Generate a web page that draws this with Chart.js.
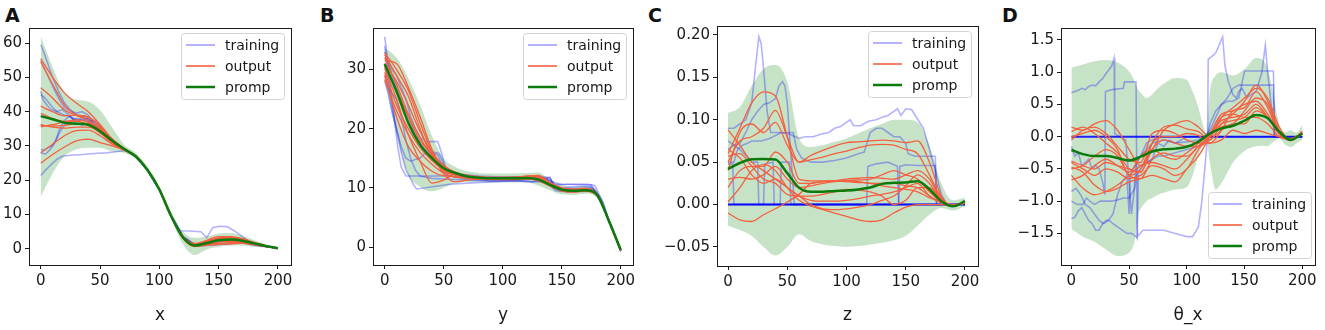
<!DOCTYPE html>
<html>
<head>
<meta charset="utf-8">
<script src="https://cdn.jsdelivr.net/npm/chart.js@4.4.1/dist/chart.umd.min.js"></script>
<style>
  body { margin: 0; background: #fff; width: 1325px; height: 330px; overflow: hidden; position: relative; }
  canvas { position: absolute; top: 0; }
  .tag { position: absolute; top: 6px; font: bold 19px 'DejaVu Sans'; line-height: 19px; color: #111; }
</style>
</head>
<body>
<div class="tag" style="left:5px">A</div>
<div class="tag" style="left:320px">B</div>
<div class="tag" style="left:648px">C</div>
<div class="tag" style="left:1002px">D</div>
<canvas id="chartA" width="300" height="330" style="left:0px"></canvas>
<canvas id="chartB" width="310" height="330" style="left:330px"></canvas>
<canvas id="chartC" width="330" height="330" style="left:655px"></canvas>
<canvas id="chartD" width="325" height="330" style="left:1000px"></canvas>
<script>
// sample positions for the smooth curves
const steps = [0, 10, 20, 30, 40, 50, 60, 70, 80, 90, 100, 110, 120, 130, 140, 150, 160, 170, 180, 190, 200];
const xTicks = [0, 50, 100, 150, 200];
const xLabels = ['0', '50', '100', '150', '200'];

// ---- panel A (x) ----
const yTicksA = [0, 10, 20, 30, 40, 50, 60];
const yLabelsA = ['0', '10', '20', '30', '40', '50', '60'];
const prompA = [38.7, 37.8, 36.8, 36.5, 36.2, 34.3, 31.6, 29.2, 27.0, 23.0, 17.3, 9.5, 3.3, 1.0, 1.7, 2.5, 2.7, 2.4, 1.6, 0.8, 0.2];
const bandUpA = [62, 53, 45.5, 43.5, 43, 40.5, 35.5, 30.5, 28, 24, 18.3, 10.8, 5, 3.2, 3.6, 4.5, 4.6, 3.8, 2.6, 1.3, 0.5];
const bandLoA = [15.2, 22, 27, 29, 29.5, 29.5, 28.5, 28, 26.3, 22.3, 16.7, 8.8, 1.3, -1.8, -0.2, 0.6, 0.9, 1.0, 0.6, 0.3, -0.1];
const outputA = [
  [55.5, 50, 45.5, 42.5, 40, 36.3, 32.2, 29.4, 27, 23, 17.3, 9.6, 3.5, 1.2, 2.2, 3.2, 3.4, 2.9, 1.8, 0.8, 0.2],
  [54.5, 48, 42, 39, 37.5, 35, 31.6, 29.1, 27, 23, 17.2, 9.4, 3.0, 0.7, 1.3, 2.0, 2.2, 2.0, 1.4, 0.7, 0.2],
  [47, 44, 40.5, 39, 38.3, 35.8, 32, 29.3, 27, 23, 17.3, 9.5, 3.4, 1.3, 2.0, 2.8, 3.1, 2.7, 1.7, 0.8, 0.2],
  [41.6, 40, 38.8, 39, 38.5, 35.7, 32, 29.3, 27, 23, 17.3, 9.5, 3.3, 1.0, 1.6, 2.4, 2.6, 2.4, 1.6, 0.8, 0.2],
  [39.5, 38, 37.2, 37.6, 37, 35, 31.7, 29.1, 27, 23, 17.3, 9.5, 3.2, 0.9, 1.2, 1.6, 1.8, 1.8, 1.3, 0.7, 0.2],
  [36.2, 35.5, 35.2, 35.5, 35.5, 34, 31.2, 29, 27, 23, 17.3, 9.5, 3.3, 1.2, 2.5, 3.6, 3.6, 3.0, 1.9, 0.9, 0.2],
  [35.6, 36.2, 37, 37.2, 36.2, 33.8, 31, 28.9, 27, 23, 17.3, 9.6, 3.6, 1.5, 1.9, 2.6, 2.9, 2.6, 1.7, 0.8, 0.2],
  [28, 30.5, 33, 34.5, 34.6, 33, 30.6, 28.9, 27, 23, 17.3, 9.5, 3.2, 0.8, 1.0, 1.3, 1.5, 1.6, 1.2, 0.7, 0.2],
  [25, 27.5, 29.7, 31.5, 32, 31, 30, 28.8, 26.9, 23, 17.3, 9.5, 3.4, 1.6, 2.4, 3.0, 3.0, 2.5, 1.6, 0.8, 0.2],
  [36, 35.8, 36, 36.5, 36.6, 34.6, 31.6, 29.2, 27, 23, 17.3, 9.5, 3.3, 1.1, 1.8, 2.5, 2.7, 2.3, 1.5, 0.8, 0.2]
];
const trainingA = [
  [[0,59.5],[3,57],[6,54],[10,50],[15,46],[20,42.5],[25,40.5],[30,39],[35,38.5],[40,37.2],[45,35.8],[50,35],[55,33.2],[60,31.5],[65,30.1],[70,29],[80,27],[90,23],[100,17.3],[110,9.7],[120,3.5],[130,1.0],[140,1.6],[150,2.4],[160,2.6],[170,2.2],[180,1.4],[190,0.7],[200,0.2]],
  [[0,46],[2,43.5],[5,42],[8,40.8],[12,40.2],[16,39.6],[20,39],[25,38.5],[30,37.2],[35,37.6],[40,38],[45,37],[50,35.5],[55,33.2],[60,31.3],[70,29],[80,27],[90,23],[100,17.3],[110,9.6],[117,5.3],[125,5.2],[135,5],[140,3.3],[145,6.2],[150,6.6],[157,6.5],[163,5.3],[170,3.6],[178,1.5],[185,1],[190,0.8],[200,0.3]],
  [[0,45],[3,44.2],[6,43],[10,41.2],[14,40],[18,40.6],[22,39.6],[26,38.2],[30,36.6],[35,36],[40,36.6],[45,36],[50,34.6],[60,31.8],[70,29.2],[80,27],[90,23],[100,17.3],[110,9.5],[120,3.2],[130,0.8],[140,1.0],[150,1.2],[160,1.5],[170,1.8],[180,1.0],[190,0.7],[200,0.2]],
  [[0,29],[3,28.8],[6,29.5],[10,30.2],[13,32],[16,35],[20,37.5],[24,38.6],[28,38],[32,37.5],[36,38.6],[40,37.8],[45,36.2],[50,34.2],[60,31.5],[70,29],[80,27],[90,23],[100,17.3],[110,9.6],[120,3.4],[130,1.2],[140,1.8],[150,2.6],[160,2.8],[170,2.4],[180,1.5],[190,0.7],[200,0.2]],
  [[0,21.4],[3,22.6],[6,23.6],[10,25],[14,26.2],[18,27],[25,27.3],[35,27.5],[45,27.8],[55,28],[65,28.4],[72,28.7],[80,27.2],[90,23],[100,17.3],[110,9.5],[120,3.3],[130,0.9],[140,1.3],[150,2.0],[160,2.3],[170,2.0],[180,1.2],[190,0.6],[200,0.2]],
  [[0,28],[4,27.6],[8,29],[12,31],[16,34],[20,36],[25,37.2],[30,38],[35,37.6],[40,37],[45,37.5],[50,36],[55,33.6],[60,31.6],[70,29.1],[80,27],[90,23],[100,17.3],[110,9.6],[120,3.4],[130,1.1],[140,1.9],[150,2.9],[160,3.1],[170,2.6],[180,1.6],[190,0.8],[200,0.2]],
  [[0,55],[4,52],[8,49],[12,46],[16,43.2],[20,41.2],[25,40.2],[30,39.6],[35,40],[40,39],[45,36.6],[50,35],[60,31.8],[70,29.2],[80,27],[90,23],[100,17.3],[110,9.6],[120,3.6],[130,1.3],[140,2.0],[150,2.8],[160,3.0],[170,2.6],[180,1.6],[190,0.8],[200,0.2]]
];

// ---- panel B (y) ----
const yTicksB = [0, 10, 20, 30];
const yLabelsB = ['0', '10', '20', '30'];
const prompB = [30.9, 26.3, 21.0, 17.3, 15.0, 13.3, 12.5, 11.9, 11.7, 11.6, 11.6, 11.6, 11.65, 11.4, 10.5, 9.7, 9.5, 9.6, 8.8, 4.4, -0.5];
const bandUpB = [33.6, 32, 28.5, 24, 18.8, 15, 13.5, 12.8, 12.5, 12.4, 12.4, 12.4, 12.5, 12.6, 11.4, 10.5, 10.2, 10.4, 9.4, 4.9, 0];
const bandLoB = [28, 19, 12.2, 10.2, 9.4, 10, 10.8, 11.0, 11.0, 10.9, 10.9, 10.9, 10.9, 10.4, 9.6, 8.9, 8.8, 9.0, 8.2, 3.9, -1];
const outputB = [
  [31.5, 31, 27, 22, 16.5, 13.2, 12.3, 12.0, 11.8, 11.7, 11.7, 11.8, 11.9, 11.8, 10.8, 9.9, 9.7, 9.8, 8.9, 4.4, -0.5],
  [32.5, 29, 25.5, 20, 15.2, 12.8, 12.2, 11.9, 11.8, 11.7, 11.7, 11.7, 11.8, 11.6, 10.6, 9.8, 9.6, 9.7, 8.8, 4.4, -0.5],
  [30.2, 25, 19, 14.5, 10.8, 11.3, 12.3, 12.0, 11.7, 11.6, 11.6, 11.6, 11.7, 11.4, 10.5, 9.7, 9.5, 9.6, 8.8, 4.4, -0.5],
  [29, 22, 17, 14.5, 12.8, 12.0, 11.9, 11.7, 11.6, 11.5, 11.5, 11.5, 11.6, 11.3, 10.4, 9.6, 9.4, 9.5, 8.8, 4.4, -0.5],
  [28.3, 23, 19, 16, 14, 12.5, 11.8, 11.6, 11.5, 11.5, 11.5, 11.5, 11.5, 11.2, 10.3, 9.5, 9.3, 9.5, 8.7, 4.4, -0.5],
  [32, 27.5, 22.5, 18.5, 15.5, 13.6, 12.6, 12.0, 11.8, 11.7, 11.7, 11.7, 11.9, 11.9, 10.8, 9.9, 9.7, 9.8, 8.9, 4.4, -0.5],
  [31, 28, 24, 19.5, 16, 13.8, 12.6, 12.1, 11.9, 11.8, 11.8, 11.8, 12.0, 12.1, 10.9, 10.0, 9.8, 9.9, 8.9, 4.4, -0.5],
  [29.5, 24, 20, 16.8, 14.6, 13, 12.1, 11.7, 11.5, 11.4, 11.4, 11.4, 11.5, 11.3, 10.4, 9.5, 9.3, 9.4, 8.7, 4.4, -0.5],
  [30.5, 26.5, 22, 18, 15.7, 13.5, 12.3, 11.8, 11.6, 11.6, 11.6, 11.6, 11.7, 11.6, 10.6, 9.7, 9.5, 9.6, 8.8, 4.4, -0.5],
  [32.8, 30, 26.5, 21, 16, 12.3, 11.0, 11.3, 11.5, 11.5, 11.5, 11.5, 11.6, 11.5, 10.5, 9.7, 9.5, 9.6, 8.8, 4.4, -0.5]
];
const trainingB = [
  [[0,35.5],[1,34],[3,31],[6,29],[10,27],[14,25],[18,23],[22,21],[26,19],[30,17.5],[34,16.5],[38,16.2],[42,16],[46,15.8],[50,14],[55,12.5],[60,12.2],[70,11.8],[90,11.6],[110,11.8],[120,11.9],[130,11.8],[138,11.5],[142,10],[145,9.5],[150,9.4],[160,9.3],[170,9.5],[178,9.3],[185,7],[190,4.5],[195,2],[200,-0.8]],
  [[0,34],[2,31],[5,27],[8,22],[11,17],[14,13.5],[18,12],[30,12],[45,12],[55,12],[70,11.5],[90,11.2],[110,11.2],[130,11.0],[140,11.2],[145,10.8],[150,10.6],[175,10.5],[180,9],[190,4.5],[200,-0.5]],
  [[0,28],[3,26],[6,23],[10,20],[14,16],[18,13],[22,11.5],[25,10.3],[27,9.8],[35,10],[45,10.3],[55,10.6],[70,10.8],[90,11],[110,11.2],[125,11],[135,11.5],[140,11.8],[143,10.5],[150,10],[165,10.2],[175,10.2],[182,8.5],[190,4.3],[200,-0.6]],
  [[0,33],[3,31],[6,30],[10,29],[14,27],[18,25],[22,22],[26,20],[30,18.5],[35,17.8],[40,17.8],[45,17.8],[48,16],[52,13],[56,12.5],[65,12.3],[80,12],[100,11.8],[120,11.8],[130,12],[140,11.7],[145,10],[150,9.6],[160,9.8],[175,10],[180,9],[190,4.4],[200,-0.4]],
  [[0,31],[3,28],[6,24],[10,20],[14,17],[18,15],[22,14.5],[26,14.8],[30,15],[35,16],[40,16],[45,15.5],[48,14],[52,12.2],[60,11.8],[75,11.7],[100,11.6],[120,11.5],[135,11.6],[140,11.4],[145,9.8],[150,9.5],[170,9.4],[178,9.6],[185,7.5],[190,4.5],[200,-0.3]],
  [[0,29],[3,27],[6,26],[10,25],[14,22],[18,18],[22,15],[26,13],[30,12],[40,11.6],[50,11.5],[70,11.3],[90,11.2],[110,11.2],[125,11.5],[135,11],[145,10.5],[155,10.6],[172,10.6],[178,10.4],[184,8],[190,4.6],[200,-0.7]]
];

// ---- panel C (z) ----
const yTicksC = [-0.05, 0, 0.05, 0.10, 0.15, 0.20];
const yLabelsC = ['\u22120.05', '0.00', '0.05', '0.10', '0.15', '0.20'];
const prompC = [0.042, 0.049, 0.0535, 0.0537, 0.053, 0.037, 0.0197, 0.015, 0.015, 0.016, 0.0165, 0.0178, 0.02, 0.0244, 0.0256, 0.026, 0.0276, 0.018, 0.004, -0.002, 0.004];
const bandUpC = [0.108, 0.115, 0.14, 0.16, 0.165, 0.145, 0.078, 0.068, 0.07, 0.074, 0.078, 0.084, 0.09, 0.095, 0.1, 0.1, 0.097, 0.07, 0.025, 0.005, 0.008];
const bandLoC = [-0.025, -0.03, -0.037, -0.05, -0.06, -0.05, -0.035, -0.043, -0.047, -0.049, -0.05, -0.049, -0.047, -0.045, -0.042, -0.037, -0.025, -0.012, -0.004, -0.007, -0.002];
const outputC = [
  [0.06, 0.09, 0.12, 0.133, 0.128, 0.08, 0.03, 0.028, 0.028, 0.028, 0.027, 0.026, 0.025, 0.022, 0.02, 0.018, 0.015, 0.008, 0.003, 0.0, 0.002],
  [0.088, 0.07, 0.05, 0.04, 0.03, 0.02, 0.01, 0.005, 0.004, 0.004, 0.005, 0.007, 0.01, 0.012, 0.015, 0.02, 0.025, 0.01, 0.002, -0.002, 0.002],
  [0.05, 0.075, 0.08, 0.09, 0.111, 0.08, 0.05, 0.058, 0.064, 0.069, 0.073, 0.074, 0.075, 0.076, 0.075, 0.073, 0.075, 0.05, 0.01, -0.002, 0.002],
  [0.04, 0.085, 0.095, 0.085, 0.097, 0.07, 0.05, 0.053, 0.056, 0.06, 0.063, 0.067, 0.07, 0.071, 0.07, 0.065, 0.06, 0.035, 0.008, -0.002, 0.002],
  [0.02, 0.04, 0.045, 0.045, 0.062, 0.05, 0.025, 0.025, 0.027, 0.028, 0.03, 0.031, 0.032, 0.031, 0.03, 0.035, 0.04, 0.03, 0.006, -0.002, 0.002],
  [0.065, 0.055, 0.035, 0.025, 0.03, 0.02, 0.01, 0.0, -0.005, -0.006, -0.005, -0.003, 0.0, 0.005, 0.01, 0.022, 0.035, 0.025, 0.005, -0.002, 0.002],
  [0.003, 0.02, 0.04, 0.047, 0.04, 0.02, 0.005, -0.002, -0.006, -0.01, -0.014, -0.018, -0.02, -0.018, -0.01, -0.003, 0.0, 0.0, 0.0, -0.002, 0.002],
  [-0.01, -0.018, -0.02, -0.012, -0.005, 0.003, 0.012, 0.025, 0.027, 0.028, 0.028, 0.027, 0.025, 0.025, 0.025, 0.022, 0.02, 0.01, 0.002, -0.002, 0.002],
  [0.057, 0.06, 0.045, 0.03, 0.025, 0.012, 0.01, 0.01, 0.012, 0.015, 0.018, 0.017, 0.015, 0.01, 0.0, 0.005, 0.02, 0.02, 0.005, -0.002, 0.002],
  [0.03, 0.032, 0.03, 0.035, 0.045, 0.03, 0.02, 0.022, 0.025, 0.027, 0.028, 0.029, 0.03, 0.035, 0.04, 0.035, 0.03, 0.015, 0.003, -0.002, 0.002]
];
const trainingC = [
  [[0,0.09],[5,0.09],[10,0.095],[15,0.1],[20,0.12],[23,0.16],[26,0.198],[28,0.19],[30,0.16],[33,0.11],[36,0.085],[45,0.085],[52,0.083],[60,0.078],[65,0.08],[72,0.08],[78,0.083],[85,0.085],[90,0.09],[95,0.092],[100,0.097],[103,0.1],[106,0.093],[112,0.093],[118,0.098],[125,0.1],[130,0.103],[135,0.105],[140,0.11],[143,0.113],[146,0.105],[150,0.113],[155,0.112],[158,0.105],[165,0.09],[170,0.065],[175,0.04],[180,0.012],[185,0.0]],
  [[0,0.065],[5,0.07],[10,0.072],[15,0.085],[20,0.1],[25,0.11],[30,0.118],[35,0.12],[40,0.125],[43,0.14],[46,0.145],[48,0.14],[50,0.12],[52,0.08],[54,0.04],[56,0.0],[200,0.0]],
  [[0,0.05],[5,0.05],[8,0.065],[12,0.07],[16,0.072],[20,0.075],[28,0.075],[35,0.078],[45,0.085],[55,0.085],[58,0.065],[62,0.055],[70,0.05],[80,0.05],[90,0.052],[100,0.055],[110,0.06],[115,0.062],[120,0.085],[125,0.09],[130,0.09],[135,0.085],[140,0.08],[145,0.08],[150,0.072],[152,0.06],[158,0.057],[175,0.057],[176,0.0]],
  [[0,0.048],[4,0.048],[5,0.0],[200,0.0]],
  [[0,0.075],[5,0.07],[10,0.065],[15,0.058],[20,0.05],[25,0.05],[26,0.0],[30,0.0],[31,0.048],[38,0.05],[39,0.0],[44,0.0],[45,0.05],[52,0.05],[53,0.0],[200,0.0]],
  [[0,0.0],[144,0.0],[145,0.045],[150,0.047],[160,0.046],[175,0.046],[176,0.0]],
  [[0,0.0],[117,0.0],[118,0.045],[125,0.048],[135,0.05],[143,0.045],[144,0.0]]
];
const zeroC = [[0, 0], [200, 0]];

// ---- panel D (theta_x) ----
const yTicksD = [-1.5, -1.0, -0.5, 0, 0.5, 1.0, 1.5];
const yLabelsD = ['\u22121.5', '\u22121.0', '\u22120.5', '0.0', '0.5', '1.0', '1.5'];
const prompD = [-0.206, -0.27, -0.3, -0.3, -0.33, -0.37, -0.31, -0.23, -0.195, -0.185, -0.155, -0.078, 0.05, 0.13, 0.17, 0.25, 0.336, 0.285, 0.078, -0.05, 0.05];
const bandStepsD = [0, 10, 20, 30, 40, 50, 55, 58, 60, 65, 70, 75, 80, 90, 100, 105, 110, 115, 117, 120, 125, 130, 140, 150, 160, 165, 170, 175, 180, 185, 190, 195, 200];
const bandUpD = [1.07, 1.12, 1.17, 1.19, 1.15, 1.01, 0.85, 0.72, 0.68, 0.6, 0.66, 0.75, 0.82, 0.91, 0.88, 0.7, 0.45, 0.12, 0.05, 0.7, 0.95, 1.0, 0.95, 1.05, 1.22, 1.2, 1.05, 0.65, 0.2, 0.07, 0.1, 0.06, 0.18];
const bandLoD = [-1.43, -1.55, -1.63, -1.75, -1.85, -1.8, -1.6, -1.2, -1.12, -1.0, -0.95, -0.9, -0.87, -0.82, -0.78, -0.6, -0.3, -0.05, -0.02, -0.4, -0.82, -0.72, -0.4, -0.22, -0.15, -0.14, -0.15, -0.08, -0.03, -0.12, -0.16, -0.1, -0.05];
const outputD = [
  [0.15, 0.1, 0.2, 0.25, 0.1, -0.2, -0.45, -0.2, 0.1, 0.2, 0.25, 0.15, 0.0, 0.3, 0.45, 0.6, 0.75, 0.6, 0.15, -0.05, 0.05],
  [0.08, 0.15, 0.05, -0.1, -0.25, -0.5, -0.55, -0.1, 0.15, 0.18, 0.12, 0.08, -0.05, 0.2, 0.35, 0.55, 0.8, 0.55, 0.1, -0.05, 0.08],
  [0.0, 0.05, 0.1, 0.0, -0.2, -0.6, -0.5, -0.1, 0.0, 0.0, 0.05, 0.02, -0.1, 0.1, 0.4, 0.45, 0.7, 0.45, 0.05, -0.03, 0.05],
  [-0.4, -0.5, -0.6, -0.5, -0.55, -0.65, -0.6, -0.45, -0.5, -0.6, -0.5, -0.2, 0.05, 0.35, 0.4, 0.5, 0.55, 0.35, 0.05, -0.06, 0.04],
  [-0.47, -0.55, -0.75, -0.85, -0.8, -0.7, -0.65, -0.6, -0.65, -0.7, -0.5, -0.3, 0.0, 0.3, 0.35, 0.3, 0.3, 0.2, 0.0, -0.04, 0.05],
  [-0.6, -0.8, -0.9, -0.85, -0.75, -0.6, -0.45, -0.4, -0.45, -0.5, -0.35, -0.15, 0.02, 0.15, 0.2, 0.4, 0.6, 0.5, 0.08, -0.05, 0.04],
  [-0.67, -0.6, -0.45, -0.35, -0.45, -0.55, -0.3, -0.2, -0.3, -0.35, -0.25, -0.1, 0.05, 0.25, 0.3, 0.35, 0.5, 0.3, 0.05, -0.03, 0.06],
  [-0.38, -0.45, -0.5, -0.4, -0.45, -0.5, -0.55, -0.2, -0.05, -0.1, -0.15, -0.15, -0.05, 0.1, 0.2, 0.2, 0.4, 0.3, 0.04, -0.05, 0.07],
  [-0.05, 0.1, 0.15, 0.05, -0.15, -0.35, -0.4, 0.05, 0.1, 0.05, -0.05, -0.1, -0.1, -0.05, 0.1, 0.05, 0.1, 0.05, 0.0, -0.04, 0.05],
  [-0.5, -0.45, -0.3, -0.2, -0.3, -0.6, -0.65, -0.35, -0.25, -0.3, -0.3, -0.15, 0.0, 0.2, 0.25, 0.3, 0.45, 0.3, 0.05, -0.03, 0.06]
];
const trainingD = [
  [[0,0.68],[3,0.7],[6,0.72],[9,0.75],[12,0.73],[15,0.78],[18,0.8],[21,0.79],[24,0.85],[27,0.9],[30,0.98],[33,1.05],[35,1.1],[37,1.22],[37.5,0.05],[42,0.0],[47,-0.05],[50,-0.7],[52,-1.2],[54,-0.9],[56,-0.4],[60,-0.3],[65,-0.2],[70,-0.1],[80,-0.05],[90,-0.1],[100,-0.08],[110,-0.05],[115,0.0],[120,0.1],[125,0.3],[130,0.5],[135,0.6],[140,0.75],[145,0.8],[160,0.8],[175,0.8],[176,0.0],[200,0.0]],
  [[0,-0.15],[3,-0.3],[6,-0.25],[9,-0.45],[12,-0.4],[15,-0.35],[18,-0.5],[21,-0.45],[24,-0.5],[27,-0.7],[29,-0.9],[29.5,0.7],[35,0.73],[45,0.75],[46,0.85],[56,0.85],[57,-1.55],[62,-1.45],[70,-1.45],[80,-1.45],[90,-1.5],[100,-1.55],[105,-1.55],[110,-1.4],[113,-1.0],[116,-0.4],[118,0.0],[118.5,1.2],[122,1.25],[125,1.3],[128,1.42],[131,1.55],[133,1.1],[136,0.85],[140,0.65],[143,0.6],[145,0.7],[148,0.75],[152,0.6],[155,0.65],[160,0.7],[165,1.0],[168,1.42],[170,1.0],[173,0.5],[176,0.0],[200,0.0]],
  [[0,-1.0],[5,-1.05],[10,-1.05],[13,-0.95],[16,-1.0],[20,-1.05],[25,-1.0],[30,-1.0],[35,-1.0],[40,-0.98],[45,-0.95],[50,-0.95],[55,-0.8],[57,-0.5],[60,-0.45],[65,-0.4],[70,-0.35],[75,-0.3],[80,-0.3],[90,-0.25],[100,-0.2],[110,-0.15],[116,-0.1],[118,0.0],[120,0.2],[125,0.4],[130,0.5],[135,0.55],[140,0.55],[145,0.6],[150,1.02],[160,1.02],[175,1.02],[176,0.0],[200,0.0]],
  [[0,-1.27],[3,-1.25],[6,-1.15],[9,-1.1],[12,-1.2],[15,-1.3],[18,-1.35],[21,-1.45],[24,-1.45],[27,-1.35],[30,-1.3],[33,-1.3],[36,-1.35],[40,-1.4],[44,-1.45],[48,-1.5],[52,-1.5],[56,-1.55],[57,-1.58],[58,-0.55],[62,-0.45],[70,-0.35],[75,-0.1],[80,-0.15],[85,-0.05],[90,-0.1],[100,0.0],[110,0.0],[200,0.0]],
  [[0,-0.85],[4,-0.8],[8,-0.9],[12,-1.05],[16,-1.1],[20,-1.2],[24,-1.3],[28,-1.35],[32,-1.3],[36,-1.2],[40,-0.9],[44,-0.7],[48,-0.6],[50,-1.2],[51,-0.6],[55,-0.45],[60,-0.3],[65,-0.1],[70,-0.05],[80,0.0],[200,0.0]]
];
const zeroD = [[0, 0], [200, 0]];

const TRAIN = 'rgba(0,0,255,0.3)';
const OUTPUT = '#f4603f';
const PROMP = '#0b7b0b';
const ZERO = 'rgba(0,0,255,0.85)';
const BAND = 'rgba(0,128,0,0.22)';

const legendItems = [
  { label: 'training', color: TRAIN, width: 2 },
  { label: 'output', color: OUTPUT, width: 1.6 },
  { label: 'promp', color: PROMP, width: 2.5 }
];

Chart.defaults.font.family = "'DejaVu Sans'";
Chart.defaults.font.size = 15;
Chart.defaults.color = '#1a1a1a';

function smooth(xs, ys, color, width, order) {
  return {
    data: ys.map((y, i) => ({ x: xs[i], y: y })),
    borderColor: color, borderWidth: width, pointRadius: 0, fill: false,
    cubicInterpolationMode: 'monotone', order: order
  };
}

function pairs(pts, color, width, order) {
  return {
    data: pts.map(p => ({ x: p[0], y: p[1] })),
    borderColor: color, borderWidth: width, pointRadius: 0, fill: false,
    tension: 0, order: order
  };
}

// box round the plot, like matplotlib
const framePlugin = {
  id: 'frame',
  afterDraw(chart) {
    const a = chart.chartArea, ctx = chart.ctx;
    ctx.save();
    ctx.strokeStyle = '#1a1a1a';
    ctx.lineWidth = 1;
    ctx.strokeRect(Math.round(a.left) + 0.5, Math.round(a.top) + 0.5, Math.round(a.right - a.left), Math.round(a.bottom - a.top));
    ctx.restore();
  }
};

function boxLegend(where, gap) {
  return {
    id: 'boxLegend',
    afterDraw(chart) {
      const a = chart.chartArea, ctx = chart.ctx;
      const w = 103, h = 66;
      const x0 = Math.round(a.right - w - gap);
      const y0 = where === 'top' ? Math.round(a.top + 5) : Math.round(a.bottom - h - 7);
      ctx.save();
      ctx.fillStyle = 'rgba(255,255,255,0.8)';
      ctx.strokeStyle = '#d4d4d4';
      ctx.lineWidth = 1;
      ctx.beginPath();
      ctx.roundRect(x0 + 0.5, y0 + 0.5, w, h, 3);
      ctx.fill();
      ctx.stroke();
      ctx.font = "14px 'DejaVu Sans'";
      ctx.textBaseline = 'middle';
      legendItems.forEach((it, i) => {
        const yy = y0 + 12 + i * 21;
        ctx.strokeStyle = it.color;
        ctx.lineWidth = it.width;
        ctx.beginPath();
        ctx.moveTo(x0 + 5, yy);
        ctx.lineTo(x0 + 34, yy);
        ctx.stroke();
        ctx.fillStyle = '#1a1a1a';
        ctx.fillText(it.label, x0 + 44, yy + 1);
      });
      ctx.restore();
    }
  };
}

function makePanel(id, p) {
  const datasets = [smooth(p.xs, p.mean, PROMP, 2.5, 0)];
  p.outputs.forEach(o => datasets.push(smooth(p.xs, o, OUTPUT, 1.3, 1)));
  p.training.forEach(t => datasets.push(pairs(t, TRAIN, 1.6, 2)));
  if (p.zero) datasets.push(pairs(p.zero, ZERO, 2, 2));
  const up = smooth(p.bandXs, p.bandUp, 'rgba(0,0,0,0)', 0, 3);
  up.fill = '+1';
  up.backgroundColor = BAND;
  datasets.push(up, smooth(p.bandXs, p.bandLo, 'rgba(0,0,0,0)', 0, 3));

  new Chart(document.getElementById(id), {
    type: 'line',
    data: { datasets: datasets },
    options: {
      responsive: false,
      animation: false,
      devicePixelRatio: 1,
      layout: { padding: { top: p.top, right: p.right, left: 0, bottom: 0 } },
      plugins: { legend: { display: false }, tooltip: { enabled: false } },
      scales: {
        x: {
          type: 'linear', min: p.xMin, max: p.xMax,
          afterBuildTicks: s => { s.ticks = xTicks.map(v => ({ value: v })); },
          afterFit: s => { s.height = p.xHeight; },
          grid: { display: true, drawOnChartArea: false, drawTicks: true, tickLength: 4, color: '#1a1a1a' },
          border: { display: false },
          ticks: { padding: 3, maxRotation: 0, autoSkip: false, callback: v => xLabels[xTicks.indexOf(v)] },
          title: { display: true, text: p.title, font: { size: 17 }, padding: { top: 0, bottom: 4 } }
        },
        y: {
          type: 'linear', min: p.yMin, max: p.yMax,
          afterBuildTicks: s => { s.ticks = p.yTicks.map(v => ({ value: v })); },
          afterFit: s => { s.width = p.yWidth; },
          grid: { display: true, drawOnChartArea: false, drawTicks: true, tickLength: 4, color: '#1a1a1a' },
          border: { display: false },
          ticks: { padding: 3, autoSkip: false, callback: v => p.yLabels[p.yTicks.indexOf(v)] }
        }
      }
    },
    plugins: [framePlugin, boxLegend(p.legend, p.legendGap)]
  });
}

makePanel('chartA', {
  xs: steps, mean: prompA, outputs: outputA, training: trainingA,
  bandXs: steps, bandUp: bandUpA, bandLo: bandLoA,
  yTicks: yTicksA, yLabels: yLabelsA, yMin: -4.7, yMax: 64.4, xMin: -9.9, xMax: 211,
  top: 28, right: 9, yWidth: 29, xHeight: 65, title: 'x', legend: 'top', legendGap: 7
});
makePanel('chartB', {
  xs: steps, mean: prompB, outputs: outputB, training: trainingB,
  bandXs: steps, bandUp: bandUpB, bandLo: bandLoB,
  yTicks: yTicksB, yLabels: yLabelsB, yMin: -3.04, yMax: 37.0, xMin: -9.9, xMax: 210.4,
  top: 28, right: 7, yWidth: 43, xHeight: 65, title: 'y', legend: 'top', legendGap: 7
});
makePanel('chartC', {
  xs: steps, mean: prompC, outputs: outputC, training: trainingC, zero: zeroC,
  bandXs: steps, bandUp: bandUpC, bandLo: bandLoC,
  yTicks: yTicksC, yLabels: yLabelsC, yMin: -0.0725, yMax: 0.2106, xMin: -9.3, xMax: 211,
  top: 26, right: 7, yWidth: 62, xHeight: 64, title: 'z', legend: 'top', legendGap: 7
});
makePanel('chartD', {
  xs: steps, mean: prompD, outputs: outputD, training: trainingD, zero: zeroD,
  bandXs: bandStepsD, bandUp: bandUpD, bandLo: bandLoD,
  yTicks: yTicksD, yLabels: yLabelsD, yMin: -1.99, yMax: 1.686, xMin: -9, xMax: 211,
  top: 28, right: 10, yWidth: 61, xHeight: 65, title: '\u03b8_x', legend: 'bottom', legendGap: 4
});
</script>
</body>
</html>
